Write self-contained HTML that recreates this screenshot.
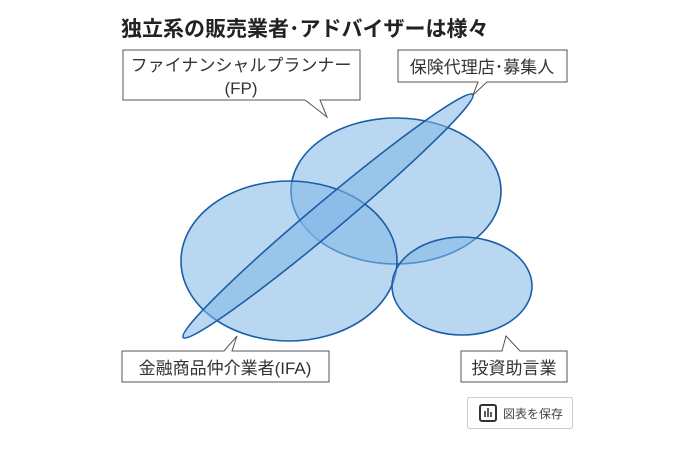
<!DOCTYPE html>
<html><head><meta charset="utf-8"><style>
body{margin:0;background:#fff;}
svg text{font-family:"Liberation Sans","Noto Sans CJK JP",sans-serif;}
</style></head><body>
<svg width="695" height="447" viewBox="0 0 695 447" xmlns="http://www.w3.org/2000/svg">
<rect width="695" height="447" fill="#fff"/>
<text x="121" y="36" font-size="21" font-weight="bold" fill="#222">独立系の販売業者･アドバイザーは様々</text>
<g fill="#7fb6e6" fill-opacity="0.55" stroke="#1a5ea8" stroke-width="1.6">
<ellipse cx="396" cy="191" rx="105" ry="73"/>
<ellipse cx="289" cy="261" rx="108" ry="80"/>
<ellipse cx="462" cy="286" rx="70" ry="49"/>
<ellipse cx="328" cy="216" rx="189" ry="15" transform="rotate(-40 328 216)"/>
</g>
<g fill="#fff" stroke="#555" stroke-width="1">
<path d="M123 50 H360 V100 H320 L327 117 L305 100 H123 Z"/>
<path d="M398 50 H567 V82 H487 L473 95 L478 82 H398 Z"/>
<path d="M122 351 H224 L237 336 L232 351 H329 V382 H122 Z"/>
<path d="M461 351 H502 L506 336 L520 351 H567 V382 H461 Z"/>
</g>
<g font-size="17" fill="#333" text-anchor="middle">
<text x="241" y="71">ファイナンシャルプランナー</text>
<text x="241" y="94">(FP)</text>
<text x="482" y="73">保険代理店･募集人</text>
<text x="225" y="374">金融商品仲介業者(IFA)</text>
<text x="514" y="374">投資助言業</text>
</g>
<rect x="467.5" y="397.5" width="105" height="31" fill="#fff" stroke="#ccc" rx="2"/>
<rect x="480" y="405" width="16" height="16" fill="none" stroke="#333" stroke-width="2" rx="2"/>
<path d="M485 417V411M488 417V408M491 417V412" stroke="#333" stroke-width="1.6"/>
<text x="503" y="418" font-size="12" fill="#444">図表を保存</text>
</svg>
</body></html>
